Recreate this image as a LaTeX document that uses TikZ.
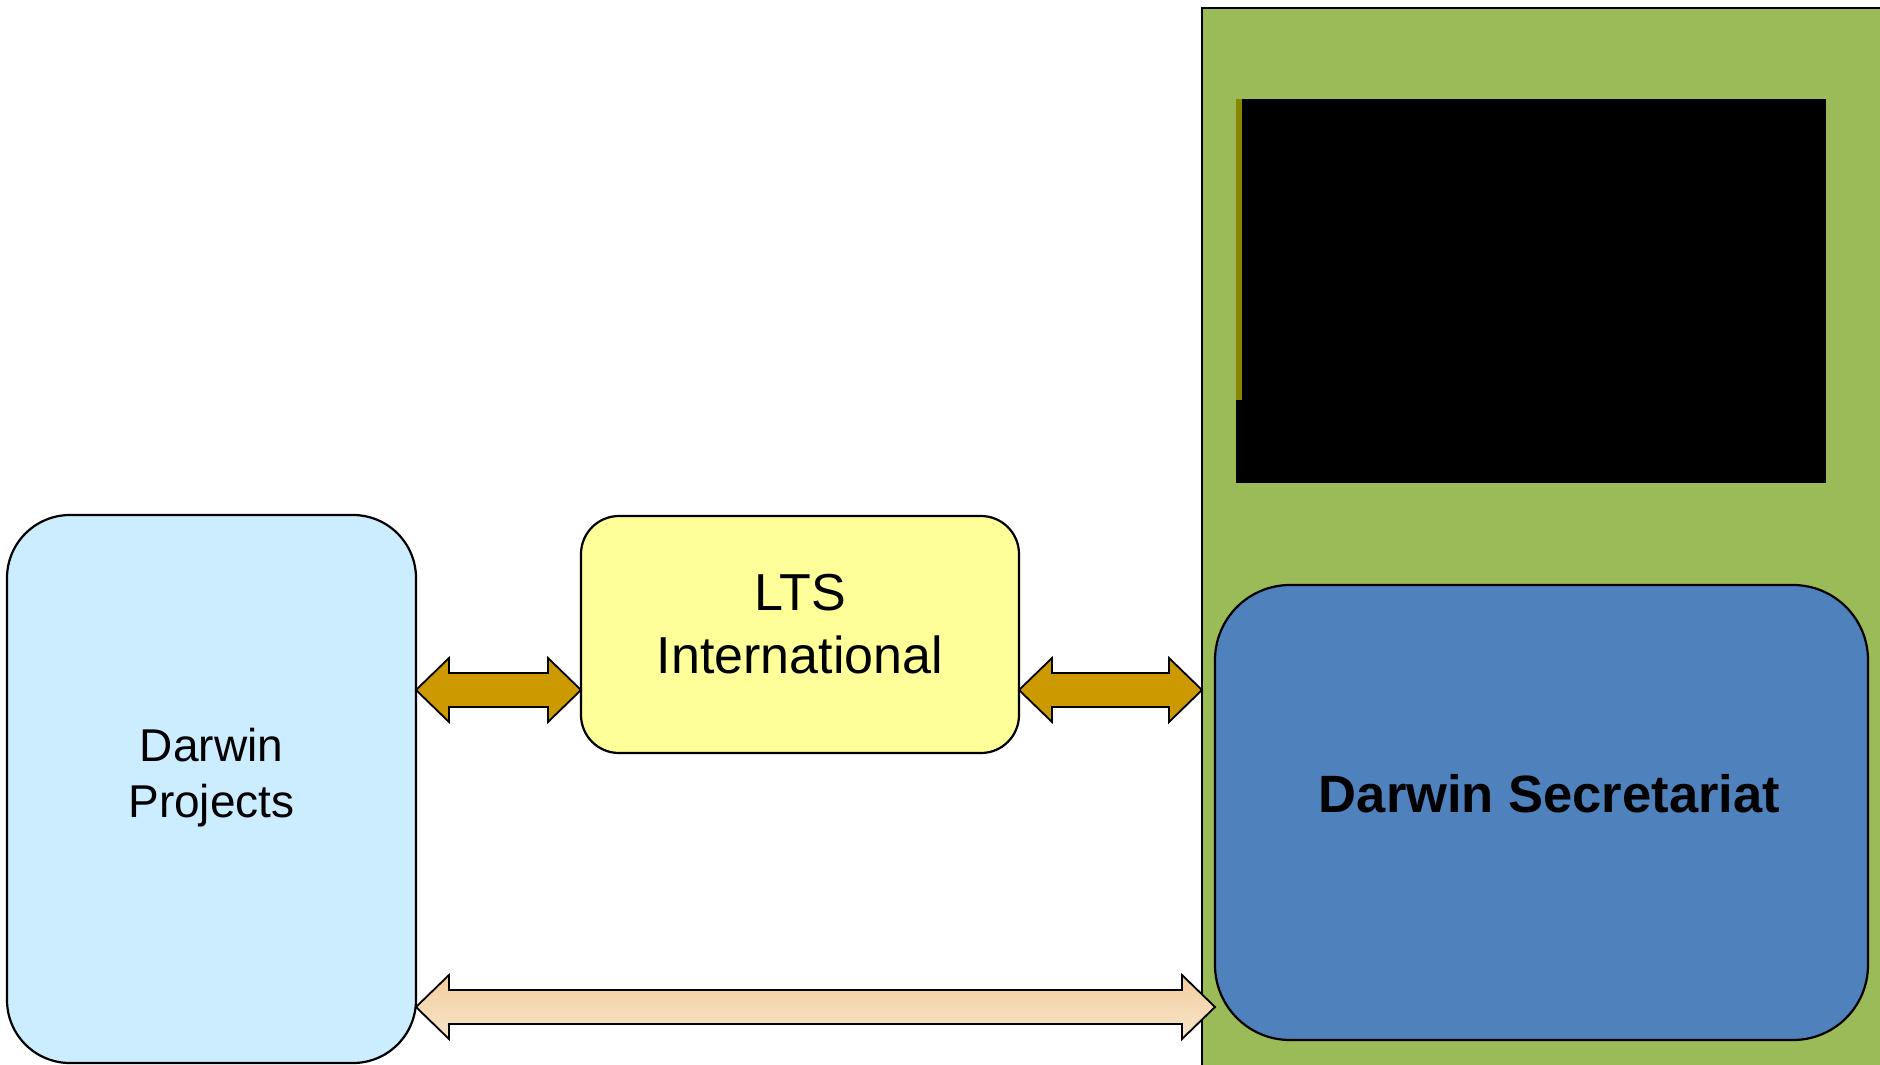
\documentclass[tikz,border=0pt]{standalone}
\usepackage{fontspec}
\setmainfont{Liberation Sans}
\usetikzlibrary{calc}
\definecolor{dpfill}{HTML}{CCECFF}
\definecolor{ltsfill}{HTML}{FFFF99}
\definecolor{grnfill}{HTML}{9BBB59}
\definecolor{dsfill}{HTML}{4F81BD}
\definecolor{arrfill}{HTML}{CC9900}
\definecolor{peachtop}{HTML}{F2CD9C}
\definecolor{peachbot}{HTML}{F8E5CB}
\definecolor{olive}{HTML}{878700}
\newcommand\dblarrow[3]{%
  \path[#3] let \p1=(#1), \p2=(#2) in
    (\x1,\y1) -- (\x1+33pt,\y1+32pt) -- (\x1+33pt,\y1+17pt) -- (\x2-33pt,\y1+17pt)
    -- (\x2-33pt,\y1+32pt) -- (\x2,\y1) -- (\x2-33pt,\y1-32pt) -- (\x2-33pt,\y1-17pt)
    -- (\x1+33pt,\y1-17pt) -- (\x1+33pt,\y1-32pt) -- cycle;}
\tikzset{
  box/.style={draw=black, line width=2.2pt, rectangle, inner sep=0pt, outer sep=0pt},
  lbl/.style={anchor=base, align=center, inner sep=0pt},
  arr/.style={draw=black, line width=1.8pt, line join=miter}
}
\begin{document}
\begin{tikzpicture}[x=1pt,y=-1pt]
\useasboundingbox (0,0) rectangle (1880,1065);
% green panel
\node[box, fill=grnfill, minimum width=683pt, minimum height=1062pt] (grn) at (1543.5,539) {};
% black block
\node[rectangle, fill=black, inner sep=0pt, minimum width=590pt, minimum height=384pt] (blk) at (1531,291) {};
\fill[olive] (blk.north west) rectangle ($(blk.north west)+(6,301)$);
% Darwin Secretariat
\node[box, fill=dsfill, rounded corners=75pt, minimum width=653pt, minimum height=455pt] (ds) at (1541.5,812.5) {};
% Darwin Projects
\node[box, fill=dpfill, rounded corners=63pt, minimum width=409pt, minimum height=548pt] (dp) at (211.5,789) {};
% LTS International
\node[box, fill=ltsfill, rounded corners=38pt, minimum width=438pt, minimum height=237pt] (lts) at (800,634.5) {};
% labels
\node[lbl, font=\fontsize{46}{56}\selectfont] (dpt) at (211.5,817) {Darwin\\Projects};
\node[lbl, font=\fontsize{52}{63}\selectfont] (ltst) at (800,673) {LTS\\International};
\node[lbl, font=\fontsize{52.5}{63}\selectfont\bfseries] (dst) at (1549.5,812) {Darwin Secretariat};
% connectors
\coordinate (a1l) at (dp.east |- 0,690);
\coordinate (a1r) at (lts.west |- 0,690);
\coordinate (a2l) at (lts.east |- 0,690);
\coordinate (a2r) at (grn.west |- 0,690);
\coordinate (a3l) at (dp.east |- 0,1007);
\coordinate (a3r) at (ds.west |- 0,1007);
\dblarrow{a1l}{a1r}{arr, fill=arrfill}
\dblarrow{a2l}{a2r}{arr, fill=arrfill}
\dblarrow{a3l}{a3r}{arr, top color=peachtop, bottom color=peachbot}
\end{tikzpicture}
\end{document}
